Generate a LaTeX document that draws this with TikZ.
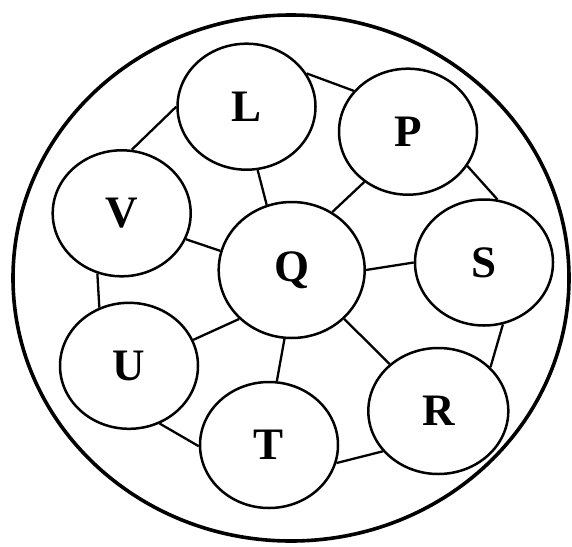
\documentclass[tikz,border=0pt]{standalone}
\usepackage{fontspec}
\setmainfont{Liberation Serif}
\usetikzlibrary{shapes.geometric}
\begin{document}
\begin{tikzpicture}[x=1pt,y=-1pt,
  vtx/.style={draw, ellipse, line width=2.5pt, minimum width=138pt, minimum height=126pt, inner sep=0pt,
    font=\fontsize{45}{45}\selectfont\bfseries},
  link/.style={line width=2.3pt}]
\useasboundingbox (0,0) rectangle (572,546);
\draw[line width=3.6pt] (291,278) ellipse [x radius=278, y radius=263];
\node[vtx] (L) at (246.5,106.7) {L};
\node[vtx] (P) at (408,131.7) {P};
\node[vtx] (V) at (121.7,213.3) {V};
\node[vtx, minimum width=146pt, minimum height=136pt] (Q) at (291.7,270) {Q};
\node[vtx] (S) at (484,262.5) {S};
\node[vtx] (U) at (129,365.8) {U};
\node[vtx] (T) at (269,445) {T};
\node[vtx, minimum width=140pt] (R) at (438.3,411) {R};
\draw[link] (L.29) -- (P.143);
\draw[link] (L.280) -- (Q.111);
\draw[link] (P.229) -- (Q.55);
\draw[link] (L.180) -- (V.81);
\draw[link] (P.330) -- (S.78);
\draw[link] (V.338) -- (Q.165);
\draw[link] (V.248) -- (U.117);
\draw[link] (Q.223) -- (U.22);
\draw[link] (Q.0) -- (S.180);
\draw[link] (Q.264) -- (T.83);
\draw[link] (Q.317) -- (R.136);
\draw[link] (S.287) -- (R.40);
\draw[link] (U.298) -- (T.181);
\draw[link] (T.345) -- (R.216);
\end{tikzpicture}
\end{document}
